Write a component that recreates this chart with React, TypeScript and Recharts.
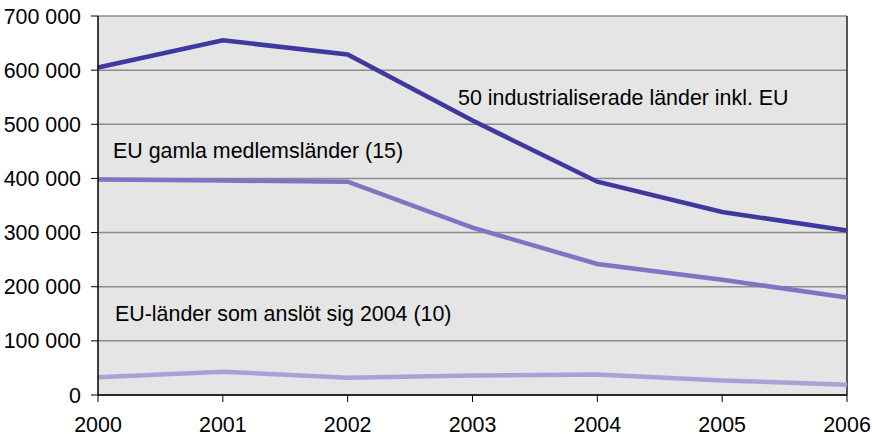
import { LineChart, Line, XAxis, YAxis, CartesianGrid, ReferenceLine } from "recharts";

const years = ["2000", "2001", "2002", "2003", "2004", "2005", "2006"];
const industrial = [605000, 655000, 629000, 507000, 394000, 338000, 304000];
const euOld = [398000, 396000, 394000, 309000, 242000, 213000, 180000];
const euNew = [33000, 43000, 32000, 36000, 38000, 27000, 19000];
const yTicks = [0, 100000, 200000, 300000, 400000, 500000, 600000, 700000];

const data = years.map((year, i) => ({
  year,
  industrial: industrial[i],
  euOld: euOld[i],
  euNew: euNew[i],
}));

const FONT = "'Liberation Sans', Arial, sans-serif";
const FS = 21.4;

const fmt = (v: number) => (v === 0 ? "0" : `${Math.round(v / 1000)} 000`);

export default function App() {
  return (
    <div style={{ position: "absolute", left: 0, top: 0, width: 872, height: 436, background: "#fff" }}>
      <LineChart
        width={872}
        height={436}
        data={data}
        margin={{ top: 16, right: 25, bottom: 0, left: 0 }}
        style={{ fontFamily: FONT }}
      >
        <CartesianGrid vertical={false} stroke="#8c8c8c" strokeWidth={1.5} fill="#e5e5e5" />
        <XAxis
          dataKey="year"
          interval={0}
          height={41}
          tick={{ fill: "#000", fontSize: FS }}
          tickSize={7}
          tickMargin={15}
          axisLine={{ stroke: "#000", strokeWidth: 1.5 }}
          tickLine={{ stroke: "#000" }}
        />
        <YAxis
          width={98}
          domain={[0, 700000]}
          ticks={yTicks}
          tickFormatter={fmt}
          tick={{ fill: "#000", fontSize: FS }}
          tickSize={7}
          tickMargin={10}
          axisLine={{ stroke: "#000", strokeWidth: 1.5 }}
          tickLine={{ stroke: "#000" }}
        />
        <ReferenceLine x="2006" stroke="#222" strokeWidth={1.5} />
        <Line dataKey="industrial" stroke="#3f389e" strokeWidth={4.5} dot={false} isAnimationActive={false} />
        <Line dataKey="euOld" stroke="#7d75c3" strokeWidth={4.5} dot={false} isAnimationActive={false} />
        <Line dataKey="euNew" stroke="#a8a2d6" strokeWidth={4.5} dot={false} isAnimationActive={false} />
      </LineChart>
      <svg
        width={872}
        height={436}
        style={{ position: "absolute", left: 0, top: 0, pointerEvents: "none" }}
        fontFamily={FONT}
        fontSize={FS}
        fill="#000"
      >
        <text x={458} y={105}>50 industrialiserade länder inkl. EU</text>
        <text x={113} y={158}>EU gamla medlemsländer (15)</text>
        <text x={115} y={321}>EU-länder som anslöt sig 2004 (10)</text>
      </svg>
    </div>
  );
}
